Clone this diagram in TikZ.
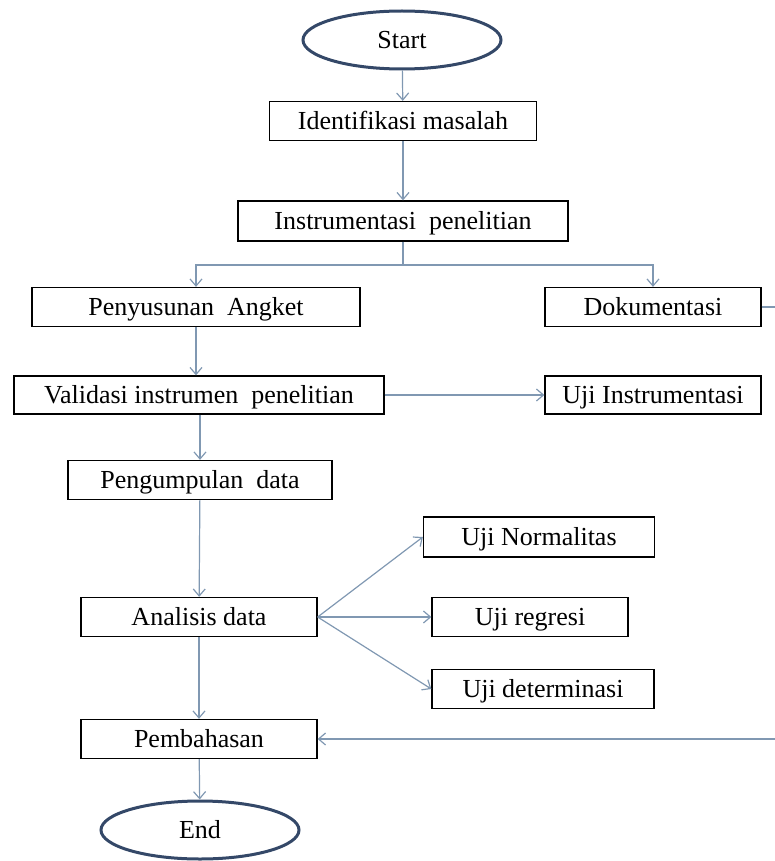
\documentclass[tikz,border=0pt]{standalone}
\usepackage{fontspec}
\setmainfont{Liberation Serif}
\usetikzlibrary{shapes.geometric,arrows.meta}

\definecolor{flowline}{RGB}{128,152,178}
\definecolor{ovalline}{RGB}{52,72,104}

\begin{document}
\begin{tikzpicture}[x=1pt, y=-1pt,
  box/.style={draw=black, line width=1.3pt, rectangle, inner sep=0pt,
    minimum height=39pt, text height=18pt, text depth=1pt,
    font=\fontsize{26}{30}\selectfont},
  oval/.style={draw=ovalline, line width=3pt, ellipse, inner sep=0pt,
    minimum width=198pt, minimum height=58pt, text height=18pt, text depth=1pt,
    font=\fontsize{26}{30}\selectfont},
  arr/.style={draw=flowline, line width=1.2pt,
    -{Straight Barb[length=7pt,width=12pt,line width=1.2pt]}},
  link/.style={draw=flowline, line width=1.2pt}]
\useasboundingbox (0,0) rectangle (774,861);

% START AND TOP BOXES
\node[oval] (start) at (402, 40) {Start};
\node[box, minimum width=267pt] (iden) at (403, 121) {Identifikasi masalah};
\node[box, minimum width=330pt, minimum height=40pt] (inst) at (403, 221) {Instrumentasi\ \ penelitian};

% LEFT COLUMN
\node[box, minimum width=328pt] (pen) at (196, 307) {Penyusunan\ \ Angket};
\node[box, minimum width=370pt, minimum height=38pt] (val) at (199, 395) {Validasi instrumen\ \ penelitian};
\node[box, minimum width=264pt] (kum) at (200, 480) {Pengumpulan\ \ data};
\node[box, minimum width=236pt] (ana) at (199, 617) {Analisis data};
\node[box, minimum width=236pt] (pem) at (199, 739) {Pembahasan};
\node[oval] (end) at (200, 830) {End};

% RIGHT COLUMN
\node[box, minimum width=216pt] (dok) at (653, 307) {Dokumentasi};
\node[box, minimum width=216pt, minimum height=38pt] (uji) at (653, 395) {Uji Instrumentasi};
\node[box, minimum width=231pt, minimum height=40pt] (norm) at (539, 537) {Uji Normalitas};
\node[box, minimum width=196pt] (reg) at (530, 617) {Uji regresi};
\node[box, minimum width=222pt] (det) at (543, 689) {Uji determinasi};

\coordinate (split) at (403, 265);
\coordinate (rim) at (776, 307);

% CONNECTORS
\draw[arr] (start) -- (iden);
\draw[arr] (iden) -- (inst);
\draw[link] (inst.south) -- (split);
\draw[arr] (split) -| (pen.north);
\draw[arr] (split) -| (dok.north);
\draw[arr] (pen.south) -- (pen.south |- val.north);
\draw[arr] (val.east) -- (uji.west);
\draw[arr] (val.south -| kum.north) -- (kum.north);
\draw[arr] (kum) -- (ana);
\draw[arr] (ana.east) -- (norm.west);
\draw[arr] (ana.east) -- (reg.west);
\draw[arr] (ana.east) -- (det.west);
\draw[arr] (ana) -- (pem);
\draw[arr] (pem) -- (end);
\draw[arr] (dok.east) -- (rim) |- (pem.east);
\end{tikzpicture}
\end{document}
